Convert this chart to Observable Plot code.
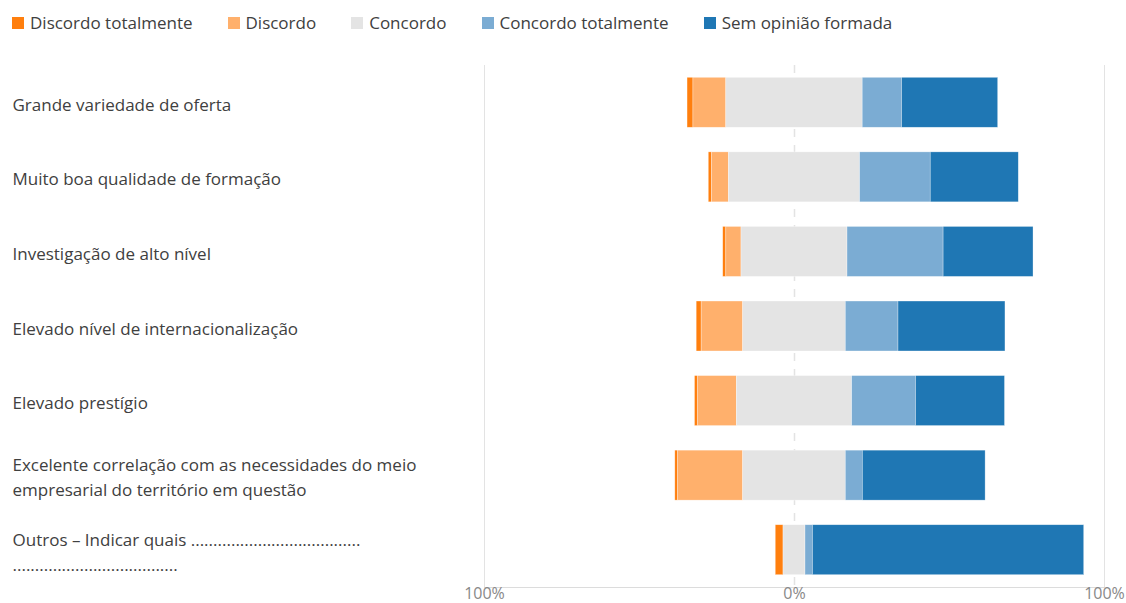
<!DOCTYPE html>
<html>
<head>
<meta charset="utf-8">
<script src="https://cdn.jsdelivr.net/npm/d3@7"></script>
<script src="https://cdn.jsdelivr.net/npm/@observablehq/plot@0.6"></script>
<style>
  html, body { margin: 0; padding: 0; background: #fff; }
  body { width: 1126px; height: 603px; overflow: hidden; font-family: "Open Sans", "Noto Sans", sans-serif; }
  #legend { height: 44px; display: flex; align-items: center; padding-left: 12px; box-sizing: border-box; padding-top: 1px; font-size: 17px; color: #404040; }
  .item { display: flex; align-items: center; margin-right: 35px; }
  .sw { width: 12px; height: 12px; margin-right: 6px; display: inline-block; }
  #chart svg { display: block; }
</style>
</head>
<body>
<div id="legend"></div>
<div id="chart"></div>
<script>
const categories = [
  "Grande variedade de oferta",
  "Muito boa qualidade de formação",
  "Investigação de alto nível",
  "Elevado nível de internacionalização",
  "Elevado prestígio",
  "Excelente correlação com as necessidades do meio\nempresarial do território em questão",
  "Outros – Indicar quais ......................................\n....................................."
];
const seriesNames = ["Discordo totalmente", "Discordo", "Concordo", "Concordo totalmente", "Sem opinião formada"];
const seriesColors = ["#ff7f0e", "#ffb06c", "#e4e4e4", "#7bacd3", "#1f77b4"];

const discordoTotalmente = [1.9, 1.0, 1.0, 1.6, 0.9, 0.9, 2.5];
const discordo           = [10.6, 5.5, 4.9, 13.4, 12.6, 21.0, 0];
const concordo           = [44.0, 42.3, 34.2, 33.1, 37.2, 33.1, 7.1];
const concordoTotalmente = [12.7, 22.8, 31.0, 17.0, 20.6, 5.5, 2.4];
const semOpiniao         = [31.0, 28.4, 29.0, 34.5, 28.7, 39.6, 87.5];

const tickValues = [-100, 0, 100];

// legend
const legend = document.getElementById("legend");
seriesNames.forEach((name, i) => {
  const it = document.createElement("div");
  it.className = "item";
  it.innerHTML = `<span class="sw" style="background:${seriesColors[i]}"></span><span>${name}</span>`;
  legend.appendChild(it);
});

// build segments: Concordo centered on 0
const rows = [];
categories.forEach((c, i) => {
  const vals = [discordoTotalmente[i], discordo[i], concordo[i], concordoTotalmente[i], semOpiniao[i]];
  let start = -(vals[0] + vals[1] + vals[2] / 2);
  vals.forEach((v, k) => {
    rows.push({category: c, series: seriesNames[k], x1: start, x2: start + v});
    start += v;
  });
});

const chart = Plot.plot({
  width: 1126,
  height: 559,
  marginLeft: 484,
  marginRight: 22,
  marginTop: 21,
  marginBottom: 16,
  style: {fontFamily: "'Open Sans', 'Noto Sans', sans-serif", background: "#fff"},
  x: {domain: [-100, 100], axis: null},
  y: {domain: categories, paddingInner: 0.33, paddingOuter: 0.165, round: false, axis: null},
  color: {domain: seriesNames, range: seriesColors},
  marks: [
    Plot.ruleX([-100, 100], {stroke: "#e3e3e3", strokeWidth: 1}),
    Plot.ruleX([0], {stroke: "#e3e3e3", strokeWidth: 1.5, strokeDasharray: "8,8"}),
    Plot.frame({anchor: "bottom", stroke: "#dcdcdc"}),
    Plot.barX(rows, {x1: "x1", x2: "x2", y: "category", fill: "series", stroke: "#ffffff", strokeWidth: 0.6, strokeOpacity: 0.5}),
    Plot.axisX(tickValues, {anchor: "bottom", tickSize: 0, tickPadding: 0, fontSize: 16, fill: "#888", tickFormat: d => Math.abs(d) + "%"}),
    Plot.text(categories, {y: d => d, text: d => d, frameAnchor: "left", textAnchor: "start", dx: -472, fontSize: 17, fill: "#404040", lineHeight: 1.47})
  ]
});
document.getElementById("chart").appendChild(chart);
</script>
</body>
</html>
